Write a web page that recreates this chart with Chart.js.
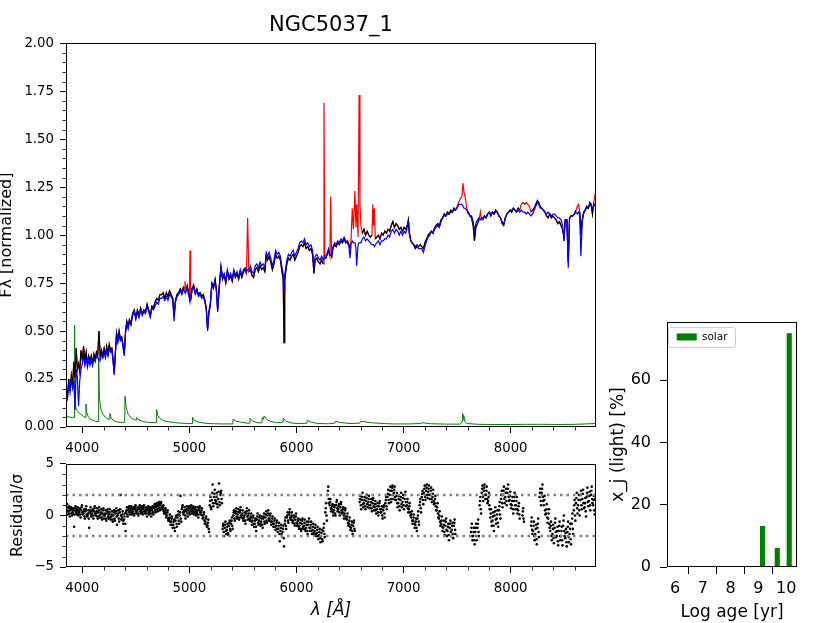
<!DOCTYPE html>
<html>
<head>
<meta charset="utf-8">
<title>NGC5037_1</title>
<script src="https://cdn.jsdelivr.net/npm/chart.js@4.4.1/dist/chart.umd.min.js"></script>
<style>
  body { margin: 0; background: #fff; width: 830px; height: 623px; position: relative; overflow: hidden; }
  canvas { position: absolute; }
  #spec { left: 0; top: 0; }
  #resid { left: 0; top: 450px; }
  #ages { left: 600px; top: 322px; }
</style>
</head>
<body>
<canvas id="spec" width="610" height="460"></canvas>
<canvas id="resid" width="610" height="173"></canvas>
<canvas id="ages" width="230" height="301"></canvas>
<script>
// wavelength sampling of the spectrum panel (Angstrom)
const lamSpec = [
  3850, 3862, 3874, 3886, 3898, 3910, 3921, 3932, 3943, 3954,
  3965, 3976, 3988, 4000, 4012, 4024, 4036, 4048, 4060, 4072,
  4084, 4096, 4108, 4120, 4132, 4144, 4156, 4168, 4180, 4192,
  4204, 4216, 4228, 4240, 4252, 4264, 4276, 4288, 4298, 4308,
  4320, 4332, 4344, 4356, 4368, 4380, 4392, 4404, 4416, 4428,
  4440, 4455, 4470, 4485, 4500, 4515, 4530, 4545, 4560, 4575,
  4590, 4605, 4620, 4635, 4650, 4665, 4680, 4695, 4710, 4725,
  4740, 4755, 4770, 4785, 4800, 4815, 4830, 4845, 4857, 4870,
  4885, 4900, 4915, 4930, 4945, 4952, 4959, 4966, 4980, 4992,
  5000, 5006, 5012, 5025, 5040, 5055, 5070, 5085, 5100, 5115,
  5130, 5145, 5158, 5170, 5182, 5195, 5210, 5225, 5240, 5252,
  5264, 5280, 5295, 5310, 5325, 5340, 5355, 5370, 5385, 5400,
  5415, 5430, 5445, 5460, 5475, 5490, 5505, 5520, 5533, 5544,
  5555, 5570, 5585, 5600, 5615, 5630, 5645, 5660, 5675, 5690,
  5705, 5718, 5730, 5745, 5760, 5775, 5790, 5805, 5820, 5835,
  5850, 5865, 5876, 5884, 5890, 5898, 5910, 5925, 5940, 5955,
  5970, 5985, 6000, 6015, 6030, 6045, 6060, 6075, 6090, 6105,
  6120, 6135, 6150, 6163, 6175, 6190, 6205, 6220, 6235, 6250,
  6257, 6264, 6275, 6288, 6300, 6312, 6320, 6328, 6340, 6355,
  6370, 6385, 6400, 6415, 6430, 6445, 6460, 6475, 6490, 6500,
  6510, 6521, 6532, 6546, 6555, 6562, 6575, 6585, 6593, 6602,
  6615, 6630, 6645, 6660, 6675, 6690, 6705, 6713, 6720, 6728,
  6736, 6750, 6765, 6780, 6795, 6810, 6825, 6840, 6855, 6870,
  6885, 6900, 6915, 6930, 6945, 6960, 6975, 6990, 7005, 7020,
  7035, 7045, 7055, 7068, 7080, 7095, 7110, 7125, 7140, 7155,
  7170, 7185, 7200, 7215, 7230, 7245, 7260, 7275, 7290, 7305,
  7320, 7335, 7350, 7365, 7380, 7395, 7410, 7425, 7440, 7455,
  7470, 7485, 7500, 7515, 7530, 7545, 7555, 7565, 7575, 7590,
  7605, 7620, 7635, 7650, 7662, 7675, 7690, 7705, 7718, 7728,
  7740, 7755, 7770, 7785, 7800, 7815, 7830, 7845, 7860, 7875,
  7890, 7905, 7920, 7935, 7950, 7965, 7980, 7995, 8010, 8025,
  8040, 8055, 8070, 8085, 8100, 8115, 8130, 8145, 8160, 8175,
  8190, 8205, 8220, 8235, 8250, 8262, 8275, 8290, 8305, 8320,
  8335, 8350, 8365, 8380, 8395, 8410, 8425, 8440, 8455, 8470,
  8485, 8498, 8510, 8525, 8538, 8550, 8565, 8580, 8595, 8610,
  8622, 8634, 8645, 8656, 8668, 8680, 8695, 8710, 8725, 8740,
  8752, 8764, 8776, 8788, 8797
];

// observed flux (red where masked, black elsewhere)
const fluxObs = [
  0.21, 0.16, 0.25, 0.19, 0.27, 0.22, 0.34, 0.26, 0.41, 0.30,
  0.33, 0.29, 0.40, 0.35, 0.42, 0.34, 0.39, 0.33, 0.37, 0.34,
  0.37, 0.33, 0.38, 0.35, 0.39, 0.37, 0.50, 0.36, 0.40, 0.37,
  0.41, 0.37, 0.42, 0.38, 0.43, 0.40, 0.41, 0.35, 0.28, 0.38,
  0.49, 0.45, 0.50, 0.46, 0.47, 0.43, 0.38, 0.50, 0.55, 0.52,
  0.56, 0.54, 0.59, 0.61, 0.57, 0.61, 0.58, 0.62, 0.59, 0.61,
  0.60, 0.64, 0.61, 0.58, 0.63, 0.62, 0.65, 0.67, 0.66, 0.69,
  0.69, 0.70, 0.67, 0.70, 0.68, 0.71, 0.69, 0.67, 0.58, 0.66,
  0.69, 0.70, 0.72, 0.70, 0.73, 0.72, 0.76, 0.71, 0.74, 0.70,
  0.68, 0.92, 0.66, 0.72, 0.74, 0.70, 0.72, 0.69, 0.70, 0.68,
  0.69, 0.66, 0.62, 0.51, 0.60, 0.64, 0.75, 0.73, 0.77, 0.72,
  0.61, 0.74, 0.83, 0.77, 0.79, 0.75, 0.81, 0.77, 0.79, 0.76,
  0.81, 0.78, 0.80, 0.77, 0.81, 0.78, 0.81, 0.82, 0.80, 1.09,
  0.81, 0.82, 0.79, 0.78, 0.82, 0.83, 0.81, 0.84, 0.82, 0.83,
  0.81, 0.89, 0.87, 0.89, 0.86, 0.82, 0.85, 0.90, 0.88, 0.89,
  0.87, 0.81, 0.77, 0.44, 0.76, 0.80, 0.85, 0.88, 0.87, 0.89,
  0.90, 0.87, 0.89, 0.91, 0.94, 0.95, 0.94, 0.96, 0.93, 0.94,
  0.92, 0.93, 0.90, 0.80, 0.87, 0.88, 0.86, 0.85, 0.87, 0.85,
  1.69, 0.88, 0.88, 0.90, 0.92, 0.89, 1.20, 0.88, 0.93, 0.95,
  0.94, 0.96, 0.95, 0.97, 0.96, 0.98, 0.96, 0.97, 0.95, 0.93,
  0.98, 1.14, 1.03, 1.23, 1.04, 1.16, 0.99, 1.73, 1.16, 1.05,
  1.01, 1.03, 1.00, 1.02, 1.00, 0.99, 1.00, 1.16, 1.05, 1.14,
  0.98, 0.99, 1.00, 0.98, 1.01, 1.00, 1.02, 1.01, 1.03, 1.02,
  1.05, 1.07, 1.04, 1.06, 1.05, 1.03, 1.04, 1.02, 1.04, 1.03,
  1.05, 1.08, 1.01, 0.97, 0.96, 0.95, 0.93, 0.94, 0.94, 0.95,
  0.94, 0.93, 0.96, 0.98, 1.00, 1.01, 1.02, 1.01, 1.04, 1.05,
  1.06, 1.05, 1.08, 1.09, 1.11, 1.10, 1.12, 1.11, 1.13, 1.12,
  1.14, 1.13, 1.15, 1.17, 1.19, 1.20, 1.27, 1.22, 1.20, 1.14,
  1.12, 1.10, 1.09, 1.05, 0.97, 1.04, 1.06, 1.08, 1.12, 1.08,
  1.08, 1.10, 1.09, 1.11, 1.12, 1.10, 1.12, 1.11, 1.13, 1.12,
  1.10, 1.09, 1.06, 1.05, 1.09, 1.11, 1.12, 1.13, 1.12, 1.14,
  1.13, 1.12, 1.14, 1.13, 1.16, 1.17, 1.16, 1.17, 1.16, 1.15,
  1.12, 1.13, 1.14, 1.16, 1.18, 1.17, 1.15, 1.14, 1.13, 1.12,
  1.10, 1.09, 1.11, 1.09, 1.10, 1.09, 1.08, 1.06, 1.07, 1.05,
  1.03, 0.99, 1.08, 1.08, 0.86, 1.09, 1.10, 1.10, 1.11, 1.13,
  1.15, 1.16, 1.12, 1.00, 1.08, 1.11, 1.13, 1.15, 1.14, 1.17,
  1.16, 1.11, 1.17, 1.21, 1.18
];

// best-fit model (blue)
const fluxModel = [
  0.17, 0.15, 0.22, 0.18, 0.25, 0.20, 0.24, 0.09, 0.30, 0.26,
  0.11, 0.24, 0.30, 0.33, 0.37, 0.32, 0.36, 0.31, 0.35, 0.32,
  0.35, 0.32, 0.36, 0.34, 0.37, 0.36, 0.35, 0.35, 0.38, 0.36,
  0.39, 0.36, 0.40, 0.37, 0.41, 0.39, 0.40, 0.34, 0.27, 0.37,
  0.48, 0.44, 0.48, 0.45, 0.46, 0.42, 0.37, 0.49, 0.54, 0.51,
  0.55, 0.53, 0.58, 0.60, 0.56, 0.60, 0.57, 0.61, 0.58, 0.60,
  0.59, 0.63, 0.60, 0.57, 0.62, 0.61, 0.63, 0.65, 0.64, 0.67,
  0.67, 0.68, 0.66, 0.68, 0.66, 0.69, 0.68, 0.66, 0.55, 0.65,
  0.68, 0.69, 0.71, 0.69, 0.72, 0.71, 0.70, 0.70, 0.73, 0.69,
  0.67, 0.65, 0.65, 0.71, 0.73, 0.69, 0.71, 0.68, 0.69, 0.67,
  0.68, 0.65, 0.61, 0.50, 0.59, 0.63, 0.74, 0.72, 0.76, 0.71,
  0.60, 0.73, 0.84, 0.78, 0.80, 0.76, 0.82, 0.78, 0.80, 0.77,
  0.82, 0.79, 0.81, 0.78, 0.82, 0.79, 0.82, 0.83, 0.81, 0.82,
  0.82, 0.84, 0.81, 0.80, 0.84, 0.85, 0.83, 0.86, 0.84, 0.85,
  0.83, 0.91, 0.89, 0.91, 0.88, 0.84, 0.87, 0.92, 0.90, 0.91,
  0.89, 0.83, 0.80, 0.70, 0.79, 0.82, 0.87, 0.90, 0.89, 0.91,
  0.92, 0.89, 0.91, 0.93, 0.96, 0.97, 0.96, 0.98, 0.95, 0.96,
  0.94, 0.95, 0.92, 0.84, 0.89, 0.90, 0.88, 0.87, 0.89, 0.87,
  0.88, 0.89, 0.89, 0.91, 0.93, 0.90, 0.90, 0.89, 0.94, 0.96,
  0.95, 0.97, 0.96, 0.98, 0.97, 0.99, 0.97, 0.96, 0.94, 0.88,
  0.95, 0.97, 0.96, 0.96, 0.93, 0.84, 0.95, 0.96, 0.96, 0.96,
  0.98, 0.99, 0.97, 0.98, 0.97, 0.96, 0.95, 0.95, 0.95, 0.94,
  0.95, 0.96, 0.97, 0.95, 0.97, 0.97, 0.98, 0.98, 1.00, 0.99,
  1.02, 1.03, 1.01, 1.03, 1.02, 1.00, 1.02, 1.00, 1.02, 1.01,
  1.04, 1.07, 1.00, 0.97, 0.96, 0.95, 0.94, 0.95, 0.93, 0.93,
  0.93, 0.91, 0.94, 0.97, 0.99, 1.00, 1.02, 1.01, 1.03, 1.04,
  1.05, 1.04, 1.07, 1.09, 1.10, 1.10, 1.11, 1.11, 1.12, 1.12,
  1.13, 1.13, 1.14, 1.16, 1.16, 1.16, 1.15, 1.14, 1.14, 1.13,
  1.11, 1.10, 1.10, 1.07, 1.02, 1.06, 1.08, 1.09, 1.08, 1.09,
  1.09, 1.10, 1.09, 1.11, 1.12, 1.11, 1.12, 1.11, 1.12, 1.12,
  1.10, 1.09, 1.07, 1.06, 1.09, 1.11, 1.12, 1.13, 1.13, 1.14,
  1.13, 1.12, 1.13, 1.12, 1.13, 1.12, 1.12, 1.11, 1.12, 1.11,
  1.10, 1.11, 1.13, 1.15, 1.17, 1.16, 1.14, 1.14, 1.13, 1.12,
  1.11, 1.12, 1.11, 1.10, 1.11, 1.11, 1.10, 1.09, 1.09, 1.08,
  1.05, 0.97, 1.08, 1.08, 0.83, 1.09, 1.10, 1.10, 1.11, 1.12,
  1.11, 1.12, 1.10, 0.89, 1.06, 1.12, 1.13, 1.14, 1.14, 1.16,
  1.15, 1.14, 1.15, 1.16, 1.16
];

// wavelength windows excluded from the fit (emission lines etc.)
const maskRanges = [
  [4948, 4968], [5003, 5009], [5540, 5548], [6253, 6260], [6316, 6324],
  [6505, 6610], [6709, 6732], [7495, 7600], [7714, 7722], [8095, 8185],
  [8615, 8640], [8782, 8800]
];

// error spectrum (green)
const lamNoise = [
  3850, 3880, 3910, 3926, 3928, 3934, 3945, 3960, 3975, 3990,
  4010, 4030, 4034, 4040, 4055, 4075, 4100, 4125, 4150, 4153,
  4160, 4175, 4195, 4215, 4240, 4255, 4258, 4270, 4295, 4330,
  4370, 4396, 4399, 4410, 4430, 4460, 4490, 4505, 4508, 4530,
  4570, 4620, 4690, 4694, 4705, 4725, 4760, 4800, 4860, 4920,
  4990, 5027, 5030, 5045, 5080, 5140, 5220, 5300, 5405, 5408,
  5440, 5480, 5540, 5562, 5566, 5590, 5640, 5678, 5681, 5692,
  5698, 5720, 5760, 5820, 5874, 5878, 5900, 5960, 6040, 6098,
  6102, 6140, 6200, 6300, 6356, 6362, 6400, 6500, 6590, 6600,
  6700, 6820, 6900, 7050, 7150, 7180, 7250, 7400, 7530, 7548,
  7552, 7556, 7562, 7570, 7590, 7700, 7850, 8000, 8150, 8300,
  8450, 8600, 8797
];
const noise = [
  0.055, 0.052, 0.050, 0.050, 0.53, 0.12, 0.09, 0.08, 0.07, 0.065,
  0.055, 0.05, 0.12, 0.08, 0.055, 0.04, 0.035, 0.03, 0.028, 0.36,
  0.15, 0.09, 0.065, 0.05, 0.042, 0.04, 0.07, 0.045, 0.032, 0.026,
  0.024, 0.024, 0.16, 0.10, 0.065, 0.045, 0.038, 0.036, 0.05, 0.036,
  0.028, 0.024, 0.022, 0.09, 0.06, 0.045, 0.033, 0.028, 0.023, 0.02,
  0.018, 0.018, 0.05, 0.035, 0.026, 0.02, 0.017, 0.016, 0.016, 0.04,
  0.03, 0.025, 0.02, 0.02, 0.045, 0.03, 0.022, 0.022, 0.05, 0.04,
  0.057, 0.04, 0.028, 0.022, 0.025, 0.045, 0.03, 0.02, 0.018, 0.02,
  0.035, 0.025, 0.018, 0.017, 0.02, 0.03, 0.024, 0.018, 0.02, 0.03,
  0.022, 0.018, 0.016, 0.016, 0.018, 0.022, 0.017, 0.015, 0.015, 0.03,
  0.07, 0.04, 0.06, 0.03, 0.018, 0.014, 0.013, 0.013, 0.014, 0.014,
  0.013, 0.014, 0.018
];

// residual / sigma, sampled every 20 A; five strands of the point cloud
const resStep = 20;
const resStarts = [3850, 3857, 3864, 3854, 3861];
const resMid = [
  0.6, 0.4, 0.5, 0.3, 0.5, 0.4, 0.3, 0.5, 0.2, 0.4,
  0.0, 0.3, 0.2, 0.4, 0.2, 0.3, 0.1, 0.2, 0.0, 0.2,
  0.1, -0.1, 0.0, 0.2, 0.0, 0.3, -0.2, -0.4, 0.3, 0.5,
  0.5, 0.4, 0.6, 0.4, 0.6, 0.5, 0.6, 0.4, 0.5, 0.4,
  0.5, 0.7, 0.8, 0.9, 1.0, 0.6, 0.3, 0.0, -0.4, -0.6,
  -0.9, -0.5, -0.2, 0.0, 0.6, 0.3, 0.4, 0.5, 0.6, 0.5,
  0.4, 0.3, 0.5, 0.3, -0.2, -0.6, -1.0, 1.0, 1.5, 1.8,
  1.4, 1.6, 2.0, -1.3, -1.2, -1.4, -1.0, -0.8, 0.0, 0.2,
  0.1, 0.3, 0.0, -0.2, 0.2, 0.0, -0.3, -0.5, -0.8, -0.4,
  -0.5, -0.6, -0.3, -0.2, 0.0, -0.3, -0.6, -0.8, -1.0, -1.3,
  -1.5, -1.6, -0.8, -0.2, 0.1, -0.2, -0.5, -0.4, -0.8, -1.0,
  -0.8, -1.0, -1.2, -0.9, -1.2, -1.4, -1.5, -1.7, -1.9, -2.0,
  -1.5, 0.3, 2.0, 1.0, 0.6, 0.5, 1.0, 0.6, 0.8, 0.3,
  0.2, -0.4, -0.8, -1.2, -1.0, null, null, 1.3, 1.5, 1.2,
  1.4, 1.3, 1.0, 1.2, 0.8, 0.6, 0.9, 0.3, 0.5, 1.2,
  1.8, 2.0, 2.4, 2.2, 1.5, 1.2, 1.5, 1.3, 1.6, 1.0,
  0.6, -0.2, -0.5, -0.9, -0.3, 1.0, 1.8, 2.2, 2.4, 2.3,
  2.0, 1.8, 1.2, 0.5, -0.3, -0.8, -1.2, -1.0, -1.5, -1.2,
  -1.4, -1.0, null, null, null, null, null, null, null, -1.6,
  -2.0, -1.6, -1.2, 1.0, 2.2, 2.4, 2.0, 1.4, -0.2, -0.5,
  0.0, -0.3, 0.5, 1.6, 2.0, 1.8, 2.2, 1.5, 1.0, 1.4,
  1.0, 0.5, null, 0.0, null, null, null, -1.0, -1.5, -1.8,
  -1.2, 1.8, 2.2, 1.0, 0.2, -0.3, -1.5, -1.8, -1.2, -2.0,
  -1.5, -2.0, -1.0, -2.2, -1.6, -1.8, -0.8, 0.5, 1.2, 1.0,
  1.5, 1.6, 0.8, 1.8, 1.4, 2.0, 1.0, 1.6
];
const resHi = [
  1.1, 0.9, 0.8, 0.7, 0.9, 0.8, 0.7, 1.0, 0.6, 0.9,
  0.5, 0.8, 0.6, 0.9, 0.7, 0.8, 0.6, 0.7, 0.5, 0.6,
  0.6, 0.4, 0.5, 0.7, 0.5, 2.0, 0.4, 0.2, 0.8, 0.9,
  0.9, 0.8, 1.0, 0.8, 1.0, 0.9, 1.0, 0.8, 0.9, 0.8,
  0.9, 1.1, 1.2, 1.3, 1.3, 1.0, 0.7, 0.5, 0.1, -0.1,
  -0.4, 0.0, 0.4, 1.9, 1.0, 0.8, 0.9, 0.9, 1.0, 0.9,
  0.8, 0.8, 0.9, 0.7, 0.3, -0.1, -0.4, 1.8, 3.0, 2.5,
  2.2, 3.1, 2.4, -0.8, -0.6, -0.8, -0.5, -0.2, 0.5, 0.7,
  0.6, 0.8, 0.5, 0.3, 0.7, 0.5, 0.2, 0.0, -0.3, 0.2,
  0.0, -0.1, 0.2, 0.4, 0.5, 0.2, -0.1, -0.3, -0.5, -0.7,
  -0.9, -1.0, -0.2, 0.3, 0.6, 0.3, 0.0, 0.2, -0.3, -0.4,
  -0.3, -0.4, -0.6, -0.3, -0.6, -0.8, -0.9, -1.1, -1.3, -1.4,
  -0.8, 1.2, 2.8, 1.6, 1.1, 1.0, 1.5, 1.1, 1.3, 0.8,
  0.7, 0.2, -0.2, -0.6, -0.5, null, null, 1.9, 2.2, 1.8,
  2.0, 1.9, 1.6, 1.7, 1.4, 1.2, 1.4, 0.9, 1.0, 1.8,
  2.5, 2.8, 2.9, 2.8, 2.2, 1.9, 2.2, 2.0, 2.3, 1.6,
  1.2, 0.4, 0.1, -0.3, 0.4, 1.6, 2.4, 2.9, 3.0, 2.9,
  2.7, 2.5, 1.9, 1.2, 0.4, -0.1, -0.5, -0.3, -0.8, -0.5,
  -0.7, -0.4, null, null, null, null, null, null, null, -0.8,
  -1.2, -0.8, -0.4, 1.8, 2.9, 3.0, 2.8, 2.2, 0.6, 0.3,
  0.8, 0.5, 1.3, 2.4, 2.8, 2.6, 3.0, 2.3, 1.8, 2.2,
  1.8, 1.2, null, 0.7, null, null, null, -0.2, -0.6, -0.9,
  -0.3, 2.6, 3.0, 1.9, 1.1, 0.6, -0.6, -0.9, -0.3, -1.1,
  -0.6, -1.1, 0.0, -1.3, -0.6, -0.8, 0.2, 1.5, 2.2, 2.0,
  2.4, 2.5, 1.7, 2.7, 2.3, 2.8, 1.9, 2.5
];
const resLo = [
  0.1, -0.1, 0.0, -1.1, 0.1, 0.0, -0.2, 0.1, -0.3, -0.1,
  -1.2, -0.1, -0.3, 0.0, -0.3, -0.2, -0.4, -0.3, -0.5, -0.3,
  -0.4, -0.6, -0.5, -0.9, -0.6, -0.4, -0.8, -1.5, -0.1, 0.1,
  0.1, 0.0, 0.2, 0.0, 0.2, 0.1, 0.2, -0.1, 0.1, -0.1,
  0.1, 0.3, 0.4, 0.5, 0.6, 0.2, -0.2, -0.5, -0.9, -1.2,
  -1.5, -1.1, -0.8, -0.6, 0.1, -0.3, -0.1, 0.1, 0.2, 0.1,
  0.0, -0.2, 0.1, -0.3, -0.8, -1.1, -1.6, 0.6, 0.9, 1.2,
  0.8, 1.0, 1.2, -2.0, -1.8, -1.9, -1.5, -1.3, -0.5, -0.3,
  -0.4, -0.2, -0.5, -0.8, -0.4, -0.5, -0.9, -1.1, -1.5, -0.9,
  -1.0, -1.2, -0.8, -0.7, -0.5, -0.9, -1.1, -1.4, -1.6, -2.5,
  -2.0, -3.0, -1.3, -0.7, -0.4, -0.7, -1.0, -1.0, -1.3, -1.5,
  -1.3, -1.5, -1.8, -1.5, -1.8, -1.9, -2.0, -2.3, -2.6, -2.5,
  -2.1, -0.5, 1.2, 0.4, 0.0, 0.0, 0.4, 0.0, 0.2, -0.3,
  -0.3, -1.0, -1.4, -1.8, -1.5, null, null, 0.6, 0.8, 0.6,
  0.8, 0.7, 0.4, 0.5, 0.2, 0.0, 0.3, -0.3, -0.2, 0.6,
  1.2, 1.3, 1.6, 1.5, 0.8, 0.5, 0.8, 0.6, 0.9, 0.3,
  0.0, -0.8, -1.2, -1.5, -0.9, 0.3, 1.1, 1.5, 1.7, 1.6,
  1.3, 1.1, 0.5, -0.2, -1.0, -1.5, -1.9, -2.0, -2.4, -2.0,
  -2.2, -1.8, null, null, null, null, null, null, null, -2.4,
  -2.8, -2.4, -2.0, 0.2, 1.4, 1.6, 1.2, 0.6, -1.0, -1.5,
  -0.8, -1.1, -0.3, 0.8, 1.2, 1.0, 1.4, 0.7, 0.2, 0.6,
  0.2, -0.3, null, -0.6, null, null, null, -1.8, -2.4, -2.8,
  -2.1, 1.0, 1.4, 0.1, -0.7, -1.2, -2.4, -2.7, -2.1, -2.9,
  -2.4, -2.9, -2.0, -3.0, -2.6, -2.8, -1.8, -0.5, 0.2, 0.0,
  0.6, 0.7, -0.1, 0.9, 0.5, 1.2, 0.1, 0.7
];
const resQ1 = [
  0.8, 0.7, 0.6, 0.5, 0.7, 0.6, 0.5, 0.8, 0.4, 0.6,
  0.2, 0.5, 0.4, 0.7, 0.4, 0.5, 0.3, 0.5, 0.2, 0.4,
  0.3, 0.1, 0.3, 0.4, 0.2, 0.6, 0.1, -0.1, 0.5, 0.7,
  0.7, 0.6, 0.8, 0.6, 0.8, 0.7, 0.8, 0.6, 0.7, 0.6,
  0.7, 0.9, 1.0, 1.1, 1.2, 0.8, 0.5, 0.3, -0.2, -0.3,
  -0.6, -0.2, 0.1, 0.3, 0.8, 0.5, 0.6, 0.7, 0.8, 0.7,
  0.6, 0.5, 0.7, 0.5, 0.1, -0.3, -0.7, 1.4, 2.2, 2.1,
  1.8, 2.3, 2.2, -1.0, -0.9, -1.1, -0.7, -0.5, 0.3, 0.4,
  0.3, 0.5, 0.2, 0.0, 0.4, 0.2, -0.1, -0.2, -0.5, -0.1,
  -0.2, -0.3, -0.1, 0.1, 0.2, 0.0, -0.3, -0.5, -0.7, -1.0,
  -1.2, -1.3, -0.5, 0.0, 0.3, 0.0, -0.2, -0.1, -0.5, -0.7,
  -0.5, -0.7, -0.9, -0.6, -0.9, -1.1, -1.2, -1.4, -1.6, -1.7,
  -1.2, 0.7, 2.4, 1.3, 0.9, 0.8, 1.3, 0.9, 1.1, 0.6,
  0.5, -0.1, -0.5, -0.9, -0.7, null, null, 1.6, 1.8, 1.5,
  1.7, 1.6, 1.3, 1.5, 1.1, 0.9, 1.2, 0.6, 0.8, 1.5,
  2.1, 2.4, 2.7, 2.5, 1.9, 1.6, 1.8, 1.7, 2.0, 1.3,
  0.9, 0.1, -0.2, -0.6, 0.0, 1.3, 2.1, 2.6, 2.7, 2.6,
  2.4, 2.1, 1.6, 0.8, 0.0, -0.5, -0.9, -0.6, -1.1, -0.8,
  -1.0, -0.7, null, null, null, null, null, null, null, -1.2,
  -1.6, -1.2, -0.8, 1.4, 2.6, 2.7, 2.4, 1.8, 0.2, -0.1,
  0.4, 0.1, 0.9, 2.0, 2.4, 2.2, 2.6, 1.9, 1.4, 1.8,
  1.4, 0.9, null, 0.4, null, null, null, -0.6, -1.0, -1.3,
  -0.8, 2.2, 2.6, 1.5, 0.6, 0.2, -1.0, -1.3, -0.7, -1.5,
  -1.0, -1.5, -0.5, -1.7, -1.1, -1.3, -0.3, 1.0, 1.7, 1.5,
  2.0, 2.1, 1.2, 2.2, 1.9, 2.4, 1.5, 2.0
];
const resQ3 = [
  0.4, 0.2, 0.2, 0.1, 0.3, 0.2, 0.1, 0.3, -0.1, 0.1,
  -0.3, 0.1, 0.0, 0.2, -0.1, 0.0, -0.2, 0.0, -0.3, -0.1,
  -0.2, -0.4, -0.3, -0.1, -0.3, 0.0, -0.5, -0.8, 0.1, 0.3,
  0.3, 0.2, 0.4, 0.2, 0.4, 0.3, 0.4, 0.2, 0.3, 0.2,
  0.3, 0.5, 0.6, 0.7, 0.8, 0.4, 0.1, -0.3, -0.6, -0.9,
  -1.2, -0.8, -0.5, -0.3, 0.3, 0.0, 0.2, 0.3, 0.4, 0.3,
  0.2, 0.1, 0.3, 0.0, -0.5, -0.9, -1.3, 0.8, 1.2, 1.5,
  1.1, 1.3, 1.6, -1.6, -1.5, -1.7, -1.3, -1.0, -0.3, -0.1,
  -0.2, 0.0, -0.3, -0.5, -0.1, -0.3, -0.6, -0.8, -1.1, -0.7,
  -0.8, -0.9, -0.6, -0.5, -0.3, -0.6, -0.8, -1.1, -1.3, -1.8,
  -1.8, -2.2, -1.0, -0.5, -0.2, -0.5, -0.8, -0.7, -1.1, -1.3,
  -1.1, -1.3, -1.5, -1.2, -1.5, -1.7, -1.8, -2.0, -2.2, -2.3,
  -1.8, 0.0, 1.6, 0.7, 0.3, 0.2, 0.7, 0.3, 0.5, 0.0,
  -0.1, -0.7, -1.1, -1.5, -1.3, null, null, 1.0, 1.1, 0.9,
  1.1, 1.0, 0.7, 0.9, 0.5, 0.3, 0.6, 0.0, 0.2, 0.9,
  1.5, 1.6, 2.0, 1.8, 1.2, 0.9, 1.1, 1.0, 1.3, 0.7,
  0.3, -0.5, -0.8, -1.2, -0.6, 0.7, 1.5, 1.8, 2.0, 2.0,
  1.6, 1.4, 0.9, 0.2, -0.6, -1.1, -1.6, -1.4, -1.9, -1.6,
  -1.8, -1.4, null, null, null, null, null, null, null, -2.0,
  -2.4, -2.0, -1.6, 0.6, 1.8, 2.0, 1.6, 1.0, -0.6, -1.0,
  -0.4, -0.7, 0.1, 1.2, 1.6, 1.4, 1.8, 1.1, 0.6, 1.0,
  0.6, 0.1, null, -0.3, null, null, null, -1.4, -2.0, -2.3,
  -1.6, 1.4, 1.8, 0.5, -0.2, -0.8, -2.0, -2.2, -1.6, -2.5,
  -2.0, -2.4, -1.5, -2.6, -2.1, -2.3, -1.3, 0.0, 0.7, 0.5,
  1.0, 1.2, 0.4, 1.3, 1.0, 1.6, 0.5, 1.2
];
const resStrands = [resMid, resHi, resLo, resQ1, resQ3];
const sigmaLevels = [2, -2];

// light fractions by population age
const barAge = [9.15, 9.68, 10.11];
const barLight = [13.1, 6.0, 75.0];

// axes
const lamRange = [3848, 8797];
const specTicksX = [4000, 5000, 6000, 7000, 8000];
const specTicksY = [0, 0.25, 0.5, 0.75, 1.0, 1.25, 1.5, 1.75, 2.0];
const resTicksY = [-5, 0, 5];
const ageTicksX = [6, 7, 8, 9, 10];
const ageTicksY = [0, 20, 40, 60];

[fluxObs, fluxModel].forEach(a => { if (a.length !== lamSpec.length) throw new Error('spectrum length ' + a.length + ' vs ' + lamSpec.length); });
if (noise.length !== lamNoise.length) throw new Error('noise length');
resStrands.forEach(a => { if (a.length !== resMid.length) throw new Error('resid length ' + a.length); });

Chart.defaults.font.family = "'DejaVu Sans', sans-serif";
Chart.defaults.color = '#000';

const inMask = lam => maskRanges.some(([a, b]) => lam >= a && lam <= b);
const fluxUsed = fluxObs.map((f, i) => inMask(lamSpec[i]) ? null : f);
const pts = (xs, ys) => xs.map((x, i) => ({ x, y: ys[i] }));
const fixedTicks = list => scale => { scale.ticks = list.map(value => ({ value })); };

// box around the plotting area (matplotlib spines)
const framePlugin = {
  id: 'frame',
  afterDraw(chart) {
    const { ctx, chartArea: a } = chart;
    ctx.save();
    ctx.strokeStyle = '#000';
    ctx.lineWidth = 1;
    ctx.strokeRect(Math.round(a.left) + 0.5, Math.round(a.top) + 0.5,
      Math.round(a.right - a.left) - 1, Math.round(a.bottom - a.top) - 1);
    ctx.restore();
  }
};

// short minor ticks at fixed steps
const minorTicksPlugin = {
  id: 'minorTicks',
  afterDraw(chart, args, opts) {
    if (!opts.steps) return;
    const ctx = chart.ctx;
    ctx.save();
    ctx.strokeStyle = '#000';
    ctx.lineWidth = 0.8;
    ctx.beginPath();
    for (const id in opts.steps) {
      const scale = chart.scales[id];
      const step = opts.steps[id];
      const majors = scale.ticks.map(t => t.value);
      for (let k = Math.ceil(scale.min / step - 1e-9); k * step <= scale.max + 1e-9; k++) {
        const v = k * step;
        if (majors.some(m => Math.abs(m - v) < step / 10)) continue;
        const p = Math.round(scale.getPixelForValue(v)) + 0.5;
        if (scale.isHorizontal()) {
          ctx.moveTo(p, scale.top);
          ctx.lineTo(p, scale.top + opts.length);
        } else {
          ctx.moveTo(scale.right, p);
          ctx.lineTo(scale.right - opts.length, p);
        }
      }
    }
    ctx.stroke();
    ctx.restore();
  }
};

// light grey box round the legend
const legendFramePlugin = {
  id: 'legendFrame',
  afterDraw(chart) {
    const hb = chart.legend && chart.legend.legendHitBoxes && chart.legend.legendHitBoxes[0];
    if (!hb) return;
    const ctx = chart.ctx;
    ctx.save();
    ctx.strokeStyle = '#d0d0d0';
    ctx.lineWidth = 1;
    ctx.beginPath();
    ctx.roundRect(Math.round(hb.left - 8.4) + 0.5, Math.round(hb.top - 5) + 0.5,
      Math.round(hb.width + 15.8), Math.round(hb.height + 9), 2);
    ctx.stroke();
    ctx.restore();
  }
};

const tickGrid = len => ({ drawOnChartArea: false, drawTicks: true, tickLength: len, color: '#000', tickColor: '#000', tickWidth: 1 });
const common = {
  responsive: false,
  animation: false,
  devicePixelRatio: 1,
  events: [],
};

new Chart(document.getElementById('spec'), {
  type: 'line',
  data: {
    datasets: [
      { label: 'model', data: pts(lamSpec, fluxModel), borderColor: '#0000ff', borderWidth: 1.2, pointRadius: 0 },
      { label: 'observed (fitted)', data: pts(lamSpec, fluxUsed), borderColor: '#000000', borderWidth: 1.2, pointRadius: 0, spanGaps: false },
      { label: 'observed', data: pts(lamSpec, fluxObs), borderColor: '#ff0000', borderWidth: 1.2, pointRadius: 0 },
      { label: 'error', data: pts(lamNoise, noise), borderColor: '#008000', borderWidth: 1, pointRadius: 0 }
    ]
  },
  options: {
    ...common,
    layout: { padding: { left: 0, right: 14, top: 0, bottom: 0 } },
    plugins: {
      legend: { display: false },
      tooltip: { enabled: false },
      title: { display: true, text: 'NGC5037_1', fullSize: false, color: '#000',
        font: { size: 21, weight: 'normal' }, padding: { top: 13, bottom: 5 } },
      minorTicks: { steps: { x: 200, y: 0.05 }, length: 3.5 }
    },
    scales: {
      x: {
        type: 'linear', min: lamRange[0], max: lamRange[1],
        afterBuildTicks: fixedTicks(specTicksX),
        afterFit: s => { s.height = 33; },
        grid: tickGrid(6), border: { display: false },
        ticks: { autoSkip: false, maxRotation: 0, padding: 8, font: { size: 13.3 }, callback: v => String(v) }
      },
      y: {
        min: 0, max: 2,
        afterBuildTicks: fixedTicks(specTicksY),
        afterFit: s => { s.width = 66; },
        grid: tickGrid(6), border: { display: false },
        ticks: { autoSkip: false, padding: 6, font: { size: 13.3 }, callback: v => v.toFixed(2) },
        title: { display: true, text: 'Fλ [normalized]', font: { size: 16, lineHeight: 0.9 }, padding: { top: 0, bottom: 0 } }
      }
    }
  },
  plugins: [framePlugin, minorTicksPlugin]
});

const resData = (start, ys) => ys.map((y, i) => ({ x: start + resStep * i, y }));
new Chart(document.getElementById('resid'), {
  type: 'scatter',
  data: {
    datasets: [
      ...sigmaLevels.map(s => ({
        label: s + ' sigma', data: [{ x: lamRange[0], y: s }, { x: lamRange[1], y: s }],
        showLine: true, pointRadius: 0, borderColor: '#808080', borderWidth: 2.5, borderDash: [2.5, 4]
      })),
      ...resStrands.map((ys, k) => ({
        label: 'resid ' + k, data: resData(resStarts[k], ys),
        pointRadius: 1.3, backgroundColor: '#000', borderWidth: 0
      }))
    ]
  },
  options: {
    ...common,
    layout: { padding: { left: 0, right: 14, top: 12, bottom: 0 } },
    plugins: {
      legend: { display: false },
      tooltip: { enabled: false },
      minorTicks: { steps: { x: 200, y: 1 }, length: 3.5 }
    },
    scales: {
      x: {
        type: 'linear', min: lamRange[0], max: lamRange[1],
        afterBuildTicks: fixedTicks(specTicksX),
        afterFit: s => { s.height = 56; },
        grid: tickGrid(6), border: { display: false },
        ticks: { autoSkip: false, maxRotation: 0, padding: 8, font: { size: 13.3 }, callback: v => String(v) },
        title: { display: true, text: 'λ [Å]', font: { size: 17, style: 'italic' }, padding: { top: 0, bottom: 2 } }
      },
      y: {
        min: -5, max: 5,
        afterBuildTicks: fixedTicks(resTicksY),
        afterFit: s => { s.width = 66; },
        grid: tickGrid(6), border: { display: false },
        ticks: { autoSkip: false, padding: 6, font: { size: 13.3 }, callback: v => v < 0 ? '\u2212' + Math.abs(v) : String(v) },
        title: { display: true, text: 'Residual/σ', font: { size: 16 }, padding: { top: 8, bottom: 0 } }
      }
    }
  },
  plugins: [framePlugin, minorTicksPlugin]
});

new Chart(document.getElementById('ages'), {
  type: 'bar',
  data: {
    datasets: [{ label: 'solar', data: pts(barAge, barLight), backgroundColor: '#008000', barThickness: 4.5 }]
  },
  options: {
    ...common,
    layout: { padding: { left: 0, right: 33, top: 0, bottom: 0 } },
    plugins: {
      tooltip: { enabled: false },
      legend: {
        display: true, position: 'chartArea', align: 'start',
        labels: { boxWidth: 20, boxHeight: 7, padding: 9.7, color: '#000', font: { size: 10.5 } }
      }
    },
    scales: {
      x: {
        type: 'linear', offset: false, min: 5.71, max: 10.39,
        afterBuildTicks: fixedTicks(ageTicksX),
        afterFit: s => { s.height = 56; },
        grid: tickGrid(7), border: { display: false },
        ticks: { autoSkip: false, maxRotation: 0, padding: 5.5, font: { size: 16 }, callback: v => String(v) },
        title: { display: true, text: 'Log age [yr]', font: { size: 17 }, padding: { top: 0, bottom: 0 } }
      },
      y: {
        min: 0, max: 78.75,
        afterBuildTicks: fixedTicks(ageTicksY),
        afterFit: s => { s.width = 67; s.paddingTop = 0; },
        grid: tickGrid(7), border: { display: false },
        ticks: { autoSkip: false, padding: 9, font: { size: 16 }, callback: v => String(v) },
        title: { display: true, text: 'x_j (light) [%]', font: { size: 17 }, padding: { top: 8, bottom: 0 } }
      }
    }
  },
  plugins: [framePlugin, legendFramePlugin]
});
</script>
</body>
</html>
